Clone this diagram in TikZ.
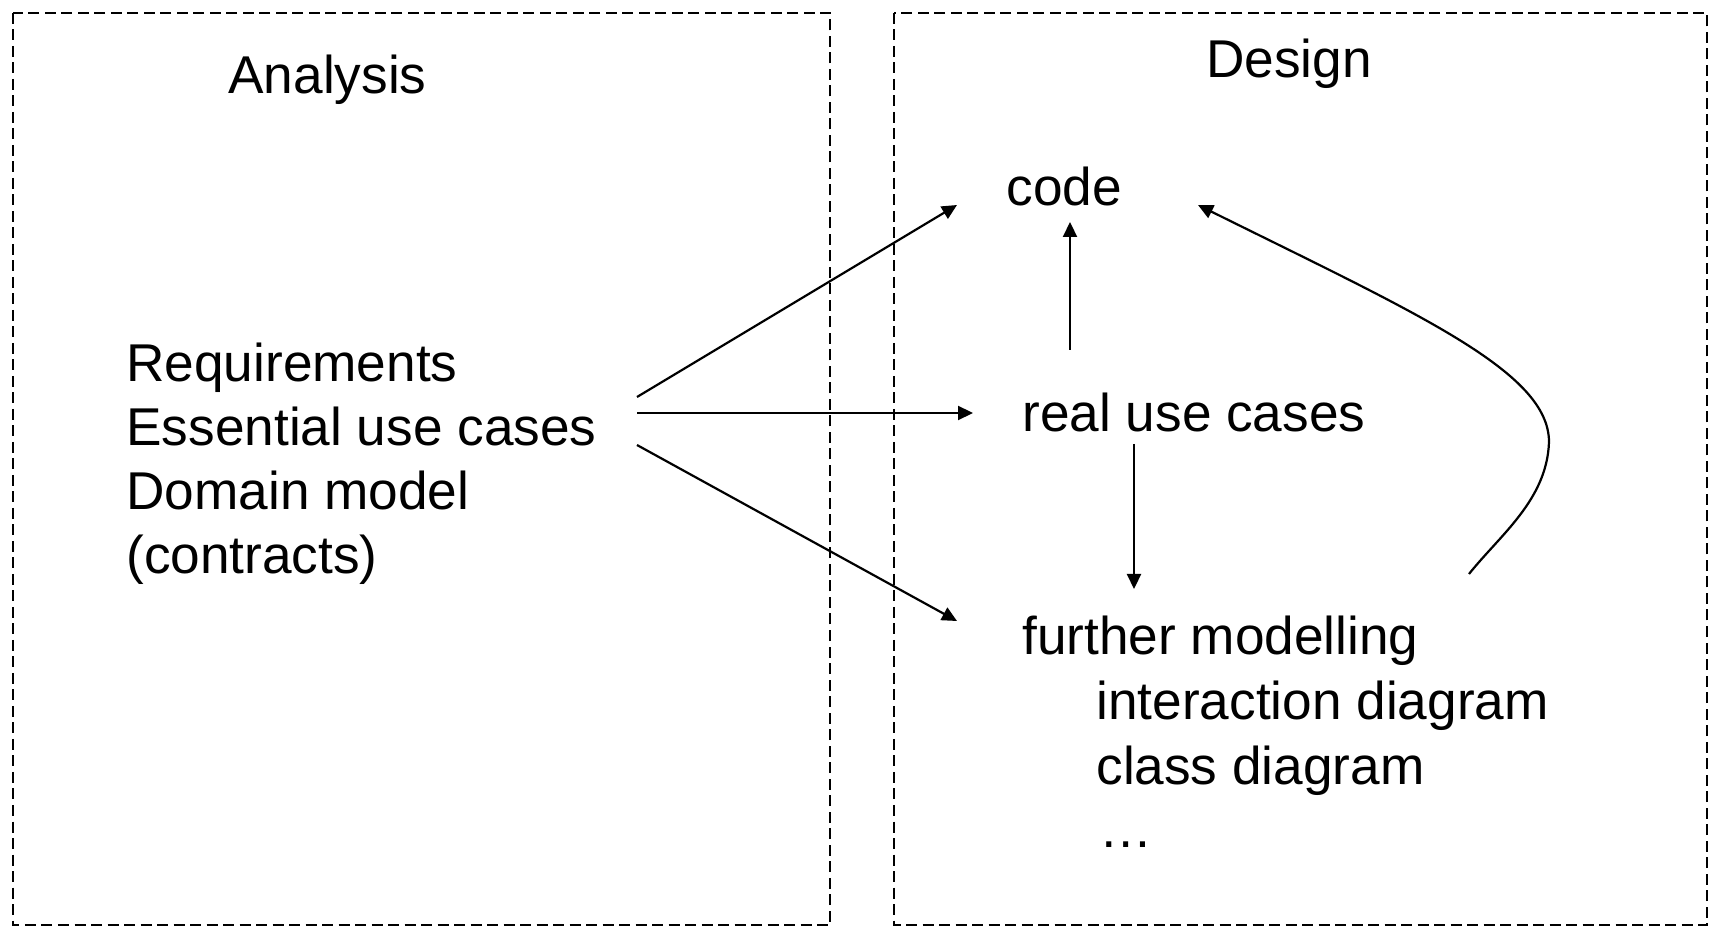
\documentclass[tikz,border=0pt]{standalone}
\usepackage{fontspec}
\setmainfont{Liberation Sans}
\usetikzlibrary{arrows.meta}
\begin{document}
\begin{tikzpicture}[x=0.5pt,y=-0.5pt,
  lbl/.style={anchor=base west, inner sep=0pt, font=\fontsize{26.6pt}{32pt}\selectfont},
  frame/.style={draw, line width=1pt, dash pattern=on 5.5pt off 2.75pt},
  conn/.style={line width=1.1pt, -{Triangle[length=7.5pt,width=7pt]}}]
\useasboundingbox (0,0) rectangle (1710,930);

% two dashed frames
\draw[frame] (13,13) rectangle (830,925);
\draw[frame] (894,13) rectangle (1707,925);

% headings
\node[lbl] (analysis) at (228,94) {Analysis};
\node[lbl] (design) at (1206,78) {Design};

% analysis artefacts
\node[lbl] (req) at (126,382) {Requirements};
\node[lbl] (euc) at (126,446) {Essential use cases};
\node[lbl] (dom) at (126,510) {Domain model};
\node[lbl] (con) at (126,574) {(contracts)};

% design artefacts
\node[lbl] (code) at (1006,206) {code};
\node[lbl] (ruc) at (1022,432) {real use cases};
\node[lbl] (fm) at (1022,655) {further modelling};
\node[lbl] (idg) at (1096,719) {interaction diagram};
\node[lbl] (cdg) at (1096,784) {class diagram};
\node[lbl] (dots) at (1099,848) {\dots};

% connector end points
\coordinate (aA) at (637,397);
\coordinate (aB) at (637,413);
\coordinate (aC) at (637,445);
\coordinate (codeIn) at (957,205);
\coordinate (rucIn) at (973,413);
\coordinate (fmIn) at (957,621);
\coordinate (rucOut) at (1070,350);
\coordinate (codeBot) at (1070,222);
\coordinate (rucBot) at (1134,444);
\coordinate (fmTop) at (1134,589);
\coordinate (fmOut) at (1469,574);
\coordinate (bend) at (1549,442);
\coordinate (codeRt) at (1198,205);

% connectors
\draw[conn] (aA) -- (codeIn);
\draw[conn] (aB) -- (rucIn);
\draw[conn] (aC) -- (fmIn);
\draw[conn] (rucOut) -- (codeBot);
\draw[conn] (rucBot) -- (fmTop);
\draw[conn] (fmOut) .. controls (1500,535) and (1547,500) .. (bend)
               .. controls (1549,372) and (1420,315) .. (codeRt);
\end{tikzpicture}
\end{document}
